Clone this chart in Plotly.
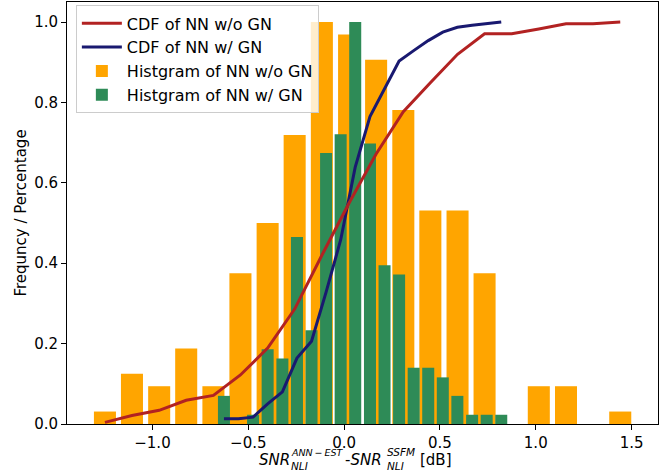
import plotly.graph_objects as go

# ---- data ----
hist_wo_x = [-1.248, -1.107, -0.965, -0.824, -0.682, -0.541, -0.399, -0.258, -0.116, 0.026,
             0.167, 0.309, 0.450, 0.592, 0.733, 0.875, 1.016, 1.158, 1.299, 1.441]
hist_wo_y = [0.031, 0.125, 0.094, 0.188, 0.094, 0.375, 0.500, 0.719, 1.000, 0.969,
             0.906, 0.781, 0.531, 0.531, 0.375, 0.000, 0.094, 0.094, 0.000, 0.031]
cdf_wo_y = [0.004, 0.021, 0.034, 0.059, 0.071, 0.122, 0.189, 0.286, 0.420, 0.550,
            0.672, 0.777, 0.849, 0.920, 0.971, 0.971, 0.983, 0.996, 0.996, 1.000]

hist_w_x = [-0.627, -0.551, -0.475, -0.399, -0.322, -0.246, -0.170, -0.094, -0.018, 0.058,
            0.135, 0.211, 0.287, 0.363, 0.439, 0.515, 0.591, 0.668, 0.744, 0.820]
hist_w_y = [0.070, 0.000, 0.023, 0.186, 0.163, 0.465, 0.233, 0.674, 0.721, 1.000,
            0.698, 0.395, 0.372, 0.140, 0.140, 0.116, 0.070, 0.023, 0.023, 0.023]
cdf_w_y = [0.013, 0.013, 0.017, 0.050, 0.080, 0.164, 0.206, 0.328, 0.458, 0.639,
           0.765, 0.836, 0.903, 0.929, 0.954, 0.975, 0.987, 0.992, 0.996, 1.000]

x_tick_vals = [-1.0, -0.5, 0.0, 0.5, 1.0, 1.5]
x_tick_text = ["\u22121.0", "\u22120.5", "0.0", "0.5", "1.0", "1.5"]
y_tick_vals = [0.0, 0.2, 0.4, 0.6, 0.8, 1.0]
y_tick_text = ["0.0", "0.2", "0.4", "0.6", "0.8", "1.0"]

FONT = "DejaVu Sans"
W, H = 670, 476
ML, MR, MT, MB = 67, 12, 2, 52

fig = go.Figure()
fig.add_trace(go.Bar(x=hist_wo_x, y=hist_wo_y, width=0.115, marker=dict(color="#FFA500", line=dict(width=0)),
                     name="Histgram of NN w/o GN", legendrank=3))
fig.add_trace(go.Bar(x=hist_w_x, y=hist_w_y, width=0.0627, marker=dict(color="#2E8B57", line=dict(width=0)),
                     name="Histgram of NN w/ GN", legendrank=4))
fig.add_trace(go.Scatter(x=hist_w_x, y=cdf_w_y, mode="lines", line=dict(color="#191970", width=3),
                         name="CDF of NN w/ GN", legendrank=2))
fig.add_trace(go.Scatter(x=hist_wo_x, y=cdf_wo_y, mode="lines", line=dict(color="#B22222", width=3),
                         name="CDF of NN w/o GN", legendrank=1))

axis_common = dict(showgrid=False, zeroline=False, showline=True, linecolor="black", linewidth=1,
                   mirror=True, ticks="outside", ticklen=5, tickwidth=1, tickcolor="black",
                   tickfont=dict(family=FONT, size=15, color="black"))

fig.update_layout(
    width=W, height=H,
    margin=dict(l=ML, r=MR, t=MT, b=MB),
    paper_bgcolor="white", plot_bgcolor="white",
    barmode="overlay",
    font=dict(family=FONT, color="black"),
    xaxis=dict(range=[-1.446, 1.638], tickvals=x_tick_vals, ticktext=x_tick_text, **axis_common),
    yaxis=dict(range=[0, 1.05], tickvals=y_tick_vals, ticktext=y_tick_text,
               title=dict(text="Frequncy / Percentage", font=dict(family=FONT, size=15), standoff=3),
               **axis_common),
    legend=dict(x=0.015, y=0.992, xanchor="left", yanchor="top", itemwidth=40,
                bgcolor="rgba(255,255,255,0.8)", bordercolor="#cccccc", borderwidth=1,
                font=dict(family=FONT, size=16), traceorder="normal"),
    showlegend=True,
)

# x-axis label built from pieces so sub/superscripts stack like mathtext
pw = W - ML - MR
ph = H - MT - MB


def px2paper(px, py):
    return (px - ML) / pw, (H - MB - py) / ph


pieces = [
    ("<i>SNR</i>", 258, 460, 15),
    ("<i>ANN\u2009\u2212\u2009EST</i>", 290, 452, 9.5),
    ("<i>NLI</i>", 290, 466, 10.5),
    ("-<i>SNR</i>", 344, 460, 15),
    ("<i>SSFM</i>", 386, 452, 10.5),
    ("<i>NLI</i>", 386, 466, 10.5),
    ("[dB]", 419, 460, 15),
]
for txt, px, py, sz in pieces:
    xp, yp = px2paper(px, py)
    fig.add_annotation(text=txt, x=xp, y=yp, xref="paper", yref="paper", xanchor="left",
                       yanchor="middle", showarrow=False, borderpad=0,
                       font=dict(family=FONT, size=sz, color="black"))

fig.write_html("out.html", config={"displayModeBar": False},
               post_script="document.body.style.margin='0px';")
